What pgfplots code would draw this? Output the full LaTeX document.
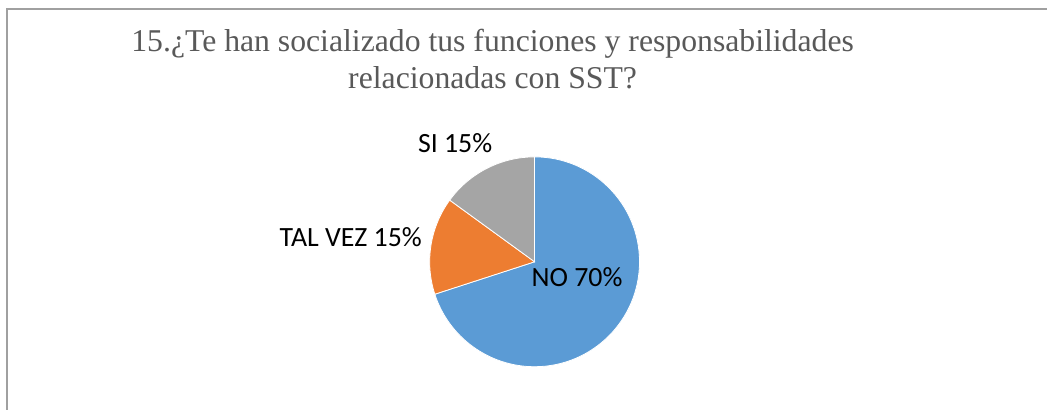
\documentclass[border=0pt]{standalone}
\usepackage{pgfplots}
\pgfplotsset{compat=1.18}
\usepackage{fontspec}
\setmainfont{Liberation Serif}
\newfontfamily\calibri{Carlito}

\definecolor{pieblue}{RGB}{91,155,213}
\definecolor{pieorange}{RGB}{237,125,49}
\definecolor{piegray}{RGB}{165,165,165}
\definecolor{titlegray}{RGB}{89,89,89}
\definecolor{framegray}{RGB}{160,160,160}

\begin{document}
\begin{tikzpicture}
\begin{axis}[
    scale only axis,
    width=786pt, height=307.5pt,
    xmin=0, xmax=1048, ymin=0, ymax=410,
    hide axis,
    clip=false,
]
% page area
\path[fill=white] (axis cs:0,0) rectangle (axis cs:1048,410);
\draw[framegray, line width=1.2pt] (axis cs:7,0) -- (axis cs:7,401) -- (axis cs:1048,401);

% slices: value / colour, clockwise from 12 o'clock
\gdef\startangle{90}
\foreach \val/\col in {70/pieblue, 15/pieorange, 15/piegray}{
  \pgfmathsetmacro{\endangle}{\startangle-3.6*\val}
  \edef\slice{\noexpand\fill[\col, draw=white, line width=0.6pt]
    (axis cs:535,148) -- ++(\startangle:78.75pt)
    arc[start angle=\startangle, end angle=\endangle, radius=78.75pt] -- cycle;}
  \slice
  \xdef\startangle{\endangle}
}

% title
\node[titlegray, font=\fontsize{23.8}{29}\selectfont, anchor=base]
  at (axis cs:493,358) {15.¿Te han socializado tus funciones y responsabilidades};
\node[titlegray, font=\fontsize{23.8}{29}\selectfont, anchor=base]
  at (axis cs:493,321) {relacionadas con SST?};

% data labels
\node[font=\calibri\fontsize{20.9}{24}\selectfont, anchor=base] at (axis cs:455.5,257) {SI 15\%};
\node[font=\calibri\fontsize{20.9}{24}\selectfont, anchor=base] at (axis cs:351,163) {TAL VEZ 15\%};
\node[font=\calibri\fontsize{20.9}{24}\selectfont, anchor=base] at (axis cs:577.5,123) {NO 70\%};
\end{axis}
\end{tikzpicture}
\end{document}
